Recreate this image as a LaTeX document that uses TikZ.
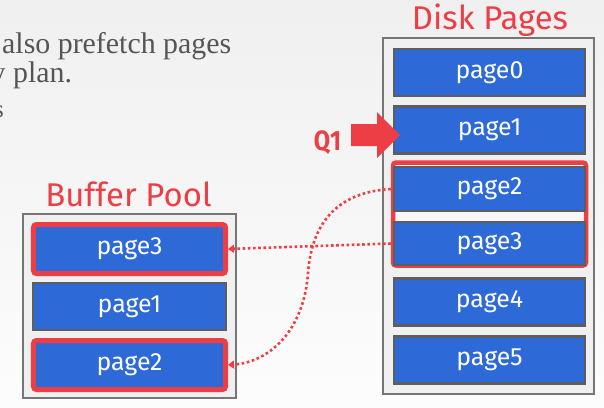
\documentclass[tikz,border=0pt]{standalone}
\usepackage{fontspec}
\setmainfont{Fira Sans}
\newfontfamily\bodyserif{Liberation Serif}
\usetikzlibrary{arrows.meta,fit}

\definecolor{pgblue}{HTML}{2D6AD8}
\definecolor{pgedge}{HTML}{5E5E5E}
\definecolor{hired}{HTML}{EE3E45}
\definecolor{boxfill}{HTML}{F0F0F0}
\definecolor{boxedge}{HTML}{767676}
\definecolor{bodytext}{HTML}{555555}

\tikzset{
  pagebox/.style={draw=pgedge, line width=2.2bp, fill=pgblue, text=white,
    font=\fontsize{25}{29}\selectfont, minimum width=191bp, minimum height=47bp,
    inner sep=0pt},
  hipage/.style={draw=hired, line width=5bp, fill=pgblue, text=white,
    rounded corners=3bp, font=\fontsize{25}{29}\selectfont,
    minimum width=192bp, minimum height=49bp, inner sep=0pt},
  container/.style={draw=boxedge, line width=2.5bp, fill=boxfill},
  groupbox/.style={draw=hired, line width=4.5bp, fill=white!97!black,
    rounded corners=3bp, inner sep=0pt},
  title/.style={text=hired, font=\fontsize{33}{37}\selectfont, inner sep=0pt, anchor=base},
  bodyline/.style={text=bodytext, inner sep=0pt, anchor=base west},
  fetch/.style={draw=hired, line width=2.6bp, dash pattern=on 2.6bp off 2.6bp,
    -{Triangle[length=6bp,width=8bp]}},
}

\begin{document}
\begin{tikzpicture}[x=1bp,y=-1bp]
  \useasboundingbox (0,0) rectangle (604,407);
  \shade[top color=black!6, bottom color=black!1] (0,0) rectangle (604,407);

  % slide text running in from the left edge
  \node[bodyline, font=\bodyserif\fontsize{30}{34}\selectfont] (t1) at (2,53) {also prefetch pages};
  \node[bodyline, font=\bodyserif\fontsize{30}{34}\selectfont] (t2) at (-9.5,82) {y plan.};
  \node[bodyline, anchor=base east, font=\bodyserif\fontsize{25}{29}\selectfont] (t3) at (4,117) {s};

  % disk pages
  \node[title] (disktitle) at (490,29) {Disk Pages};
  \draw[container] (383,38) rectangle (594,394);
  \node[pagebox] (d0) at (489.5,72.5) {page0};
  \node[pagebox] (d1) at (489.5,130) {page1};
  \node[pagebox] (d4) at (489.5,302) {page4};
  \node[pagebox] (d5) at (489.5,360) {page5};
  % highlighted pair: red frame first, pages on top
  \coordinate (g2) at (489.5,189);
  \coordinate (g3) at (489.5,243.5);
  \node[groupbox, minimum width=193bp, minimum height=103bp] (grp) at (489.5,214) {};
  \node[pagebox, minimum height=44bp] (d2) at (g2) {page2};
  \node[pagebox, minimum height=43bp] (d3) at (g3) {page3};

  % buffer pool
  \node[title] (pooltitle) at (128.5,206) {Buffer Pool};
  \draw[container] (23,214) rectangle (236,398);
  \node[hipage] (b3) at (129.5,249) {page3};
  \node[pagebox, minimum width=193bp, minimum height=47bp, line width=2.5bp] (b1) at (129.5,306.5) {page1};
  \node[hipage] (b2) at (129.5,365) {page2};

  % prefetched pages
  \coordinate (bend) at (308,273);
  \draw[fetch] (grp.west |- d3) -- (b3.east);
  \draw[fetch] (grp.west |- d2) .. controls (340,192) and (312,220) .. (bend)
    .. controls (304,330) and (270,362) .. (b2.east);

  % query cursor
  \fill[hired] (351,124) -- (377,124) -- (377,112) -- (400,135) -- (377,158)
    -- (377,146) -- (351,146) -- cycle;
  \node[text=hired, font=\bfseries\fontsize{28}{30}\selectfont, inner sep=0pt,
    xscale=0.85, transform shape, anchor=base] (q1) at (327.5,150) {Q1};
\end{tikzpicture}
\end{document}
